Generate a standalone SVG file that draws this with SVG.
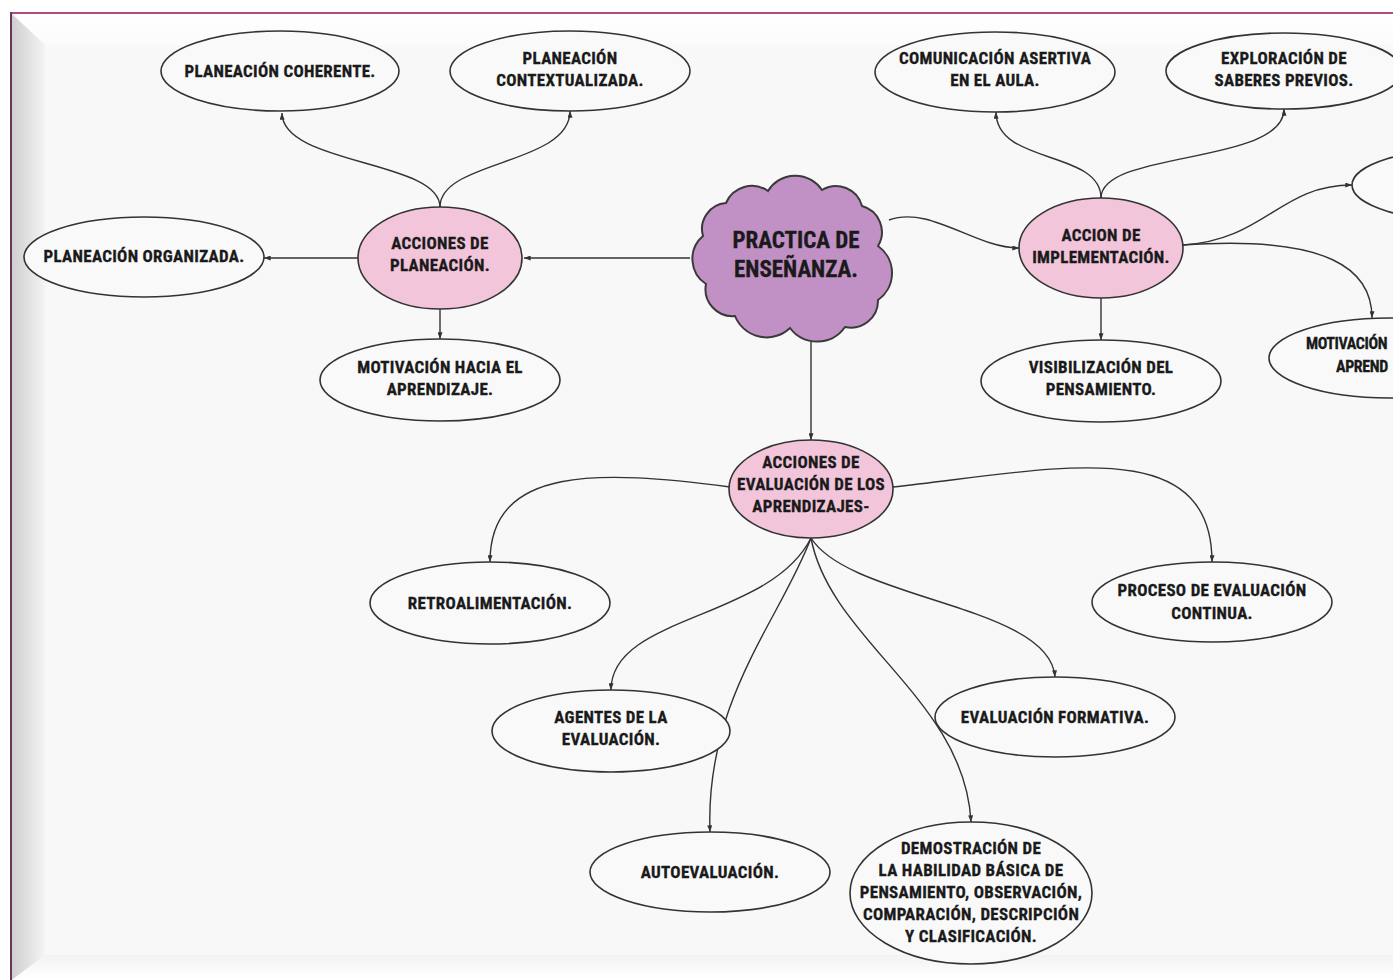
<svg xmlns="http://www.w3.org/2000/svg" width="1393" height="980" viewBox="0 0 1393 980">
<defs>
<style>
.node{fill:#f9f9f9;stroke:#333;stroke-width:1.6}
.pink{fill:#f3c5db;stroke:#333;stroke-width:1.6}
.cloud{fill:#c190c4;stroke:#3a3a3a;stroke-width:2}
.edge{fill:none;stroke:#333;stroke-width:1.4;marker-end:url(#arr)}
.t{font-family:"Liberation Sans Narrow","Roboto Condensed","Liberation Sans",Arial,sans-serif;font-weight:bold;font-size:17px;fill:#1a1a1a;stroke:#1a1a1a;stroke-width:0.3;text-anchor:middle;letter-spacing:0.3px}
.s{text-anchor:start;font-size:16px;letter-spacing:-0.4px}
.big{font-size:23px;letter-spacing:0}
</style>
<marker id="arr" viewBox="0 0 8 6" refX="8" refY="3" markerWidth="7" markerHeight="5" markerUnits="userSpaceOnUse" orient="auto">
<path d="M0,0 L8,3 L0,6 z" fill="#333"/>
</marker>
<linearGradient id="lg" x1="0" y1="0" x2="1" y2="0">
<stop offset="0" stop-color="#cfcfcf"/>
<stop offset="1" stop-color="#f4f4f4"/>
</linearGradient>
<linearGradient id="tg" x1="0" y1="0" x2="0" y2="1">
<stop offset="0" stop-color="#ffffff"/>
<stop offset="1" stop-color="#fbfbfb"/>
</linearGradient>
<linearGradient id="bg" x1="0" y1="0" x2="0" y2="1">
<stop offset="0" stop-color="#f3f3f3"/>
<stop offset="1" stop-color="#ffffff"/>
</linearGradient>
</defs>
<g id="frame">
<rect x="0" y="0" width="1393" height="980" fill="#ffffff"/>
<rect x="12" y="14" width="1381" height="966" fill="#f8f8f8"/>
<polygon points="12,14 1393,14 1393,45 45,45" fill="url(#tg)"/>
<polygon points="12,14 45,45 45,955 12,980" fill="url(#lg)"/>
<polygon points="12,980 45,955 1393,955 1393,980" fill="url(#bg)"/>
<line x1="11" y1="13" x2="1393" y2="13" stroke="#b04a80" stroke-width="2"/>
<line x1="11" y1="12" x2="11" y2="980" stroke="#6e3556" stroke-width="2"/>
</g>
<g id="connectors">
<path class="edge" d="M690,258 L524,258"/>
<path class="edge" d="M358,258 L264,258"/>
<path class="edge" d="M440,309 L440,339"/>
<path class="edge" d="M440,207 C440,160 282,165 282,113"/>
<path class="edge" d="M440,207 C440,160 570,165 570,111"/>
<path class="edge" d="M889,220 C930,205 975,248 1019,248"/>
<path class="edge" d="M1101,198 C1101,150 996,165 996,112"/>
<path class="edge" d="M1101,198 C1101,150 1284,165 1284,109"/>
<path class="edge" d="M1183,245 C1265,240 1280,185 1352,185"/>
<path class="edge" d="M1183,245 C1330,235 1372,270 1372,318"/>
<path class="edge" d="M1101,298 L1101,340"/>
<path class="edge" d="M811,340 L811,440"/>
<path class="edge" d="M730,487 C600,470 490,465 490,562"/>
<path class="edge" d="M893,487 C1050,470 1212,430 1212,562"/>
<path class="edge" d="M811,538 C770,620 611,615 611,690"/>
<path class="edge" d="M811,538 C780,620 705,700 710,832"/>
<path class="edge" d="M811,538 C830,640 965,700 971,822"/>
<path class="edge" d="M811,538 C850,600 1050,605 1055,677"/>
</g>
<g id="n-coherente"><ellipse class="node" cx="280" cy="71" rx="119" ry="40"/><text class="t" x="280" y="77">PLANEACIÓN COHERENTE.</text></g>
<g id="n-contextualizada"><ellipse class="node" cx="570" cy="71" rx="120" ry="40"/><text class="t" x="570" y="64">PLANEACIÓN</text><text class="t" x="570" y="86">CONTEXTUALIZADA.</text></g>
<g id="n-organizada"><ellipse class="node" cx="144" cy="257" rx="120" ry="40"/><text class="t" x="144" y="262">PLANEACIÓN ORGANIZADA.</text></g>
<g id="n-planeacion"><ellipse class="pink" cx="440" cy="258" rx="82" ry="51"/><text class="t" x="440" y="249">ACCIONES DE</text><text class="t" x="440" y="271">PLANEACIÓN.</text></g>
<g id="n-motivacion1"><ellipse class="node" cx="440" cy="380" rx="120" ry="41"/><text class="t" x="440" y="373">MOTIVACIÓN HACIA EL</text><text class="t" x="440" y="395">APRENDIZAJE.</text></g>
<g id="n-practica"><path class="cloud" d="M703,236 A26,26 0 0 1 726,203 A28,28 0 0 1 768,191 A32,32 0 0 1 822,190 A27,27 0 0 1 862,206 A27,27 0 0 1 878,246 A33,33 0 0 1 878,300 A27,27 0 0 1 845,327 A34,34 0 0 1 790,328 A34,34 0 0 1 735,316 A27,27 0 0 1 706,284 A30,30 0 0 1 703,236 Z"/><text class="t big" x="796" y="248">PRACTICA DE</text><text class="t big" x="796" y="277">ENSEÑANZA.</text></g>
<g id="n-implementacion"><ellipse class="pink" cx="1101" cy="248" rx="82" ry="50"/><text class="t" x="1101" y="241">ACCION DE</text><text class="t" x="1101" y="263">IMPLEMENTACIÓN.</text></g>
<g id="n-comunicacion"><ellipse class="node" cx="995" cy="72" rx="120" ry="40"/><text class="t" x="995" y="64">COMUNICACIÓN ASERTIVA</text><text class="t" x="995" y="86">EN EL AULA.</text></g>
<g id="n-exploracion"><ellipse class="node" cx="1284" cy="71" rx="118" ry="38"/><text class="t" x="1284" y="64">EXPLORACIÓN DE</text><text class="t" x="1284" y="86">SABERES PREVIOS.</text></g>
<g id="n-partial"><ellipse class="node" cx="1472" cy="185" rx="120" ry="37"/></g>
<g id="n-motivacion2"><ellipse class="node" cx="1389" cy="358" rx="120" ry="40"/><text class="t s" x="1306" y="349">MOTIVACIÓN</text><text class="t s" x="1336" y="372">APREND</text></g>
<g id="n-visibilizacion"><ellipse class="node" cx="1101" cy="381" rx="120" ry="41"/><text class="t" x="1101" y="373">VISIBILIZACIÓN DEL</text><text class="t" x="1101" y="395">PENSAMIENTO.</text></g>
<g id="n-evaluacion"><ellipse class="pink" cx="811" cy="489" rx="82" ry="49"/><text class="t" x="811" y="468">ACCIONES DE</text><text class="t" x="811" y="490">EVALUACIÓN DE LOS</text><text class="t" x="811" y="512">APRENDIZAJES-</text></g>
<g id="n-retro"><ellipse class="node" cx="490" cy="603" rx="120" ry="41"/><text class="t" x="490" y="609">RETROALIMENTACIÓN.</text></g>
<g id="n-proceso"><ellipse class="node" cx="1212" cy="602" rx="120" ry="40"/><text class="t" x="1212" y="596">PROCESO DE EVALUACIÓN</text><text class="t" x="1212" y="619">CONTINUA.</text></g>
<g id="n-agentes"><ellipse class="node" cx="611" cy="731" rx="119" ry="41"/><text class="t" x="611" y="723">AGENTES DE LA</text><text class="t" x="611" y="745">EVALUACIÓN.</text></g>
<g id="n-formativa"><ellipse class="node" cx="1055" cy="717" rx="120" ry="40"/><text class="t" x="1055" y="723">EVALUACIÓN FORMATIVA.</text></g>
<g id="n-autoevaluacion"><ellipse class="node" cx="710" cy="872" rx="120" ry="40"/><text class="t" x="710" y="878">AUTOEVALUACIÓN.</text></g>
<g id="n-demostracion"><ellipse class="node" cx="971" cy="893" rx="121" ry="71"/><text class="t" x="971" y="854">DEMOSTRACIÓN DE</text><text class="t" x="971" y="876">LA HABILIDAD BÁSICA DE</text><text class="t" x="971" y="898">PENSAMIENTO, OBSERVACIÓN,</text><text class="t" x="971" y="920">COMPARACIÓN, DESCRIPCIÓN</text><text class="t" x="971" y="942">Y CLASIFICACIÓN.</text></g>
</svg>
